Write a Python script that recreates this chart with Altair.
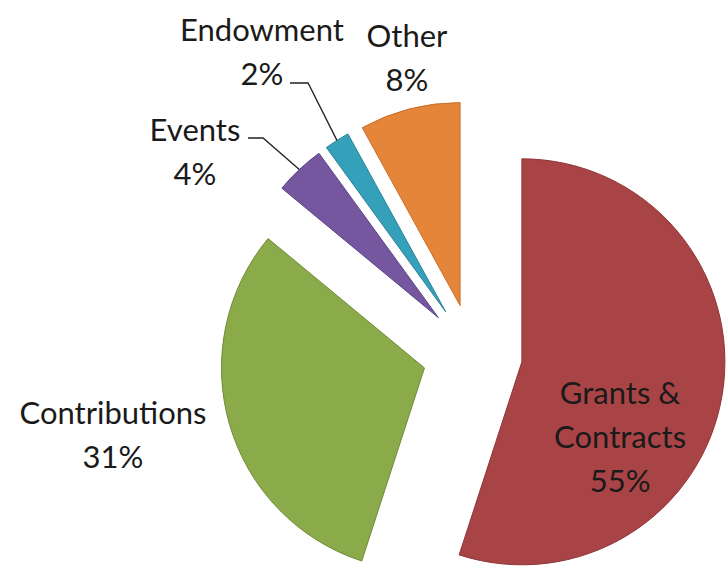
import math
import altair as alt
import pandas as pd

# ---- data ----
categories = ["Grants & Contracts", "Contributions", "Events", "Endowment", "Other"]
values = [55, 31, 4, 2, 8]
label_lines = [["Grants &", "Contracts", "55%"], ["Contributions", "31%"],
               ["Events", "4%"], ["Endowment", "2%"], ["Other", "8%"]]
colors = ["#A94446", "#8BAA4A", "#7557A0", "#35A0BA", "#E5853A"]

# ---- layout (units of pie radius, relative to pie centre) ----
R_PX = 203
EXPLODE = 50 / R_PX
W, H = 726, 569
CX_PX, CY_PX = 472.5, 354
# position of the first line of each label
label_pos = {
    "Grants & Contracts": (0.727, -0.202),
    "Contributions": (-1.771, -0.300),
    "Events": (-1.367, 1.094),
    "Endowment": (-1.037, 1.586),
    "Other": (-0.323, 1.557),
}
leader_start = {
    "Events": [(-1.106, 1.064), (-1.032, 1.064)],
    "Endowment": [(-0.899, 1.335), (-0.810, 1.335)],
}

total = sum(values)
rows, lab_rows, line_rows = [], [], []
cum = 0
for cat, v, lines, col in zip(categories, values, label_lines, colors):
    t0 = cum / total * 2 * math.pi
    cum += v
    t1 = cum / total * 2 * math.pi
    mid = (t0 + t1) / 2
    cx = EXPLODE * math.sin(mid)
    cy = EXPLODE * math.cos(mid)
    rows.append({"cat": cat, "value": v, "t0": t0, "t1": t1, "cx": cx, "cy": cy})
    lx, ly = label_pos[cat]
    lab_rows.append({"cat": cat, "lines": lines, "lx": lx, "ly": ly})
    if cat in leader_start:
        pts = leader_start[cat] + [((EXPLODE + 1) * math.sin(mid), (EXPLODE + 1) * math.cos(mid))]
        for i, (px, py) in enumerate(pts):
            line_rows.append({"cat": cat, "i": i, "px": px, "py": py})

arcs = pd.DataFrame(rows)
labs = pd.DataFrame(lab_rows)
leaders = pd.DataFrame(line_rows)

xs = alt.Scale(domain=[-CX_PX / R_PX, (W - CX_PX) / R_PX], nice=False, zero=False)
ys = alt.Scale(domain=[-(H - CY_PX) / R_PX, CY_PX / R_PX], nice=False, zero=False)
cs = alt.Scale(domain=categories, range=colors)

pie = alt.Chart(arcs).mark_arc(radius=R_PX, strokeWidth=1).encode(
    x=alt.X("cx:Q", scale=xs, axis=None),
    y=alt.Y("cy:Q", scale=ys, axis=None),
    theta=alt.Theta("t0:Q", scale=None),
    theta2="t1:Q",
    color=alt.Color("cat:N", scale=cs, legend=None),
    stroke=alt.Stroke("cat:N", scale=alt.Scale(domain=categories,
                      range=["#8E3436", "#6F8C38", "#5C4286", "#2A8298", "#C96F2A"]), legend=None),
)

text = alt.Chart(labs).mark_text(font="Lato", fontSize=31, lineHeight=44,
                                 color="#1a1a1a", align="center", baseline="middle").encode(
    x=alt.X("lx:Q", scale=xs, axis=None),
    y=alt.Y("ly:Q", scale=ys, axis=None),
    text="lines",
)

lines = alt.Chart(leaders).mark_line(color="#222222", strokeWidth=1.3).encode(
    x=alt.X("px:Q", scale=xs, axis=None),
    y=alt.Y("py:Q", scale=ys, axis=None),
    detail="cat:N",
    order="i:Q",
)

chart = alt.layer(pie, lines, text).properties(
    width=W, height=H, padding=0, autosize=alt.AutoSizeParams(type="none"),
    background="white",
).configure_view(stroke=None)

chart.save("out.html", embed_options={"renderer": "svg", "actions": False})
